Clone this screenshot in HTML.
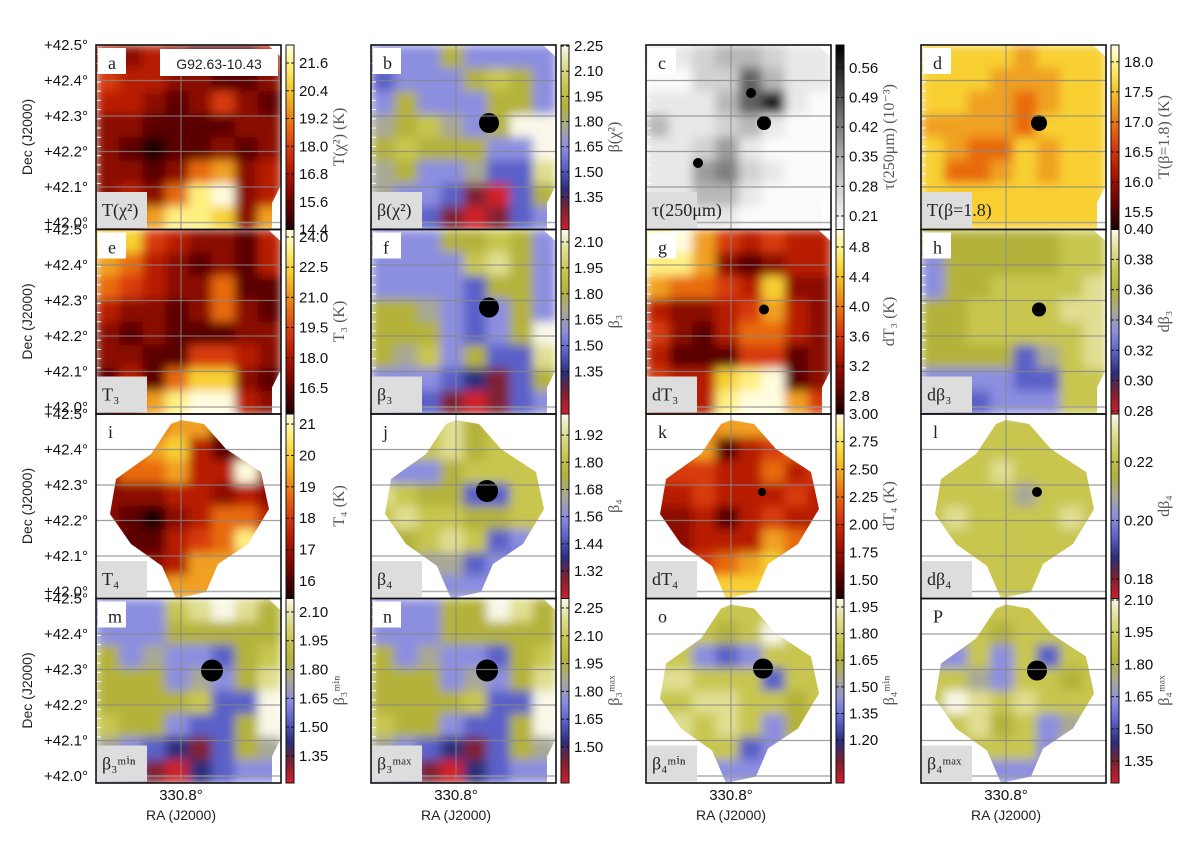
<!DOCTYPE html>
<html><head><meta charset="utf-8"><style>
body{margin:0;background:#fff;}
svg{display:block;}
.tk{font-family:"Liberation Sans","DejaVu Sans",sans-serif;font-size:15px;fill:#111;}
.ax{font-family:"Liberation Sans","DejaVu Sans",sans-serif;font-size:14px;fill:#222;}
.cbl{font-family:"Liberation Serif","DejaVu Serif",serif;font-size:16px;fill:#555;}
.plab{font-family:"Liberation Serif","DejaVu Serif",serif;font-size:18px;fill:#222;}
</style></head><body>
<svg id="fig" width="1200" height="842" viewBox="0 0 1200 842" xmlns="http://www.w3.org/2000/svg">
<defs>
<filter id="blur" x="0" y="0" width="1" height="1"><feGaussianBlur stdDeviation="5" edgeMode="duplicate"/></filter>
</defs>
</svg>
<script>
// colormaps (level 0 = bottom of colorbar)
const heatCmap=["#1a0000","#5a0000","#8b0a00","#b81c00","#d83a10","#e86a10","#f0a020","#f8d030","#fff080","#fffde0"];
const betaCmap=["#d0202a","#802030","#2a2e7a","#5a60c8","#8c8ee0","#a8a896","#b4b23a","#c8c650","#e0de90","#faf8e8"];
const grayCmap=["#fbfbfb","#e8e8e8","#d2d2d2","#b8b8b8","#9c9c9c","#7e7e7e","#606060","#404040","#202020","#000000"];

// map grids (8x8 levels 0-9)
const gridA=["32321113","43322112","33212421","22111122","21011212","22125623","23258923","23688726"];
const gridB=["44464444","34446764","46444664","56754699","67666449","56445338","54431036","34310134"];
const gridC=["11233211","00226311","11136810","31123100","11241000","11452100","11331000","00110000"];
const gridD=["77776777","77766677","77665677","66665777","76557677","75567677","77777777","77777777"];
const gridE=["77432213","65321213","54322511","32212521","21211122","22114432","13157721","23689932"];
const gridF=["44466764","44447864","44443664","66543464","66643469","65746338","44432136","43310134"];
const gridG=["89643433","88621233","65543722","32234632","42135532","31114412","43378912","33389964"];
const gridH=["66666677","46666677","46677778","66777788","66777778","66663578","44443377","43344477"];
const gridI=["33466111","34673122","35563392","22233232","21023553","31134583","22236652","22566666"];
const gridJ=["77786777","57786777","44467777","87663377","78776677","66787347","66553434","44444444"];
const gridK=["44566666","45613455","44433534","33433343","22313433","32333653","33456743","44777777"];
const gridL=["77777777","77777777","77787777","77775777","78777787","77777777","77777777","77777777"];
const gridM=["44478986","44466666","64544367","66645468","66667339","76643369","54321365","43102344"];
const gridN=["44466986","44466666","64544367","66645468","66667339","76643369","54321365","43102344"];
const gridO=["77777777","77767977","77434777","88777377","77887767","78787467","77773477","44444444"];
const gridP=["77777777","77767777","44747377","77547767","79878777","77867457","77777477","44444444"];

// colorbar ticks
const ticksA=[21.6,20.4,19.2,18.0,16.8,15.6,14.4];
const ticksB=[2.25,2.10,1.95,1.80,1.65,1.50,1.35];
const ticksC=[0.56,0.49,0.42,0.35,0.28,0.21];
const ticksD=[18.0,17.5,17.0,16.5,16.0,15.5];
const ticksE=[24.0,22.5,21.0,19.5,18.0,16.5];
const ticksF=[2.10,1.95,1.80,1.65,1.50,1.35];
const ticksG=[4.8,4.4,4.0,3.6,3.2,2.8];
const ticksH=[0.40,0.38,0.36,0.34,0.32,0.30,0.28];
const ticksI=[21,20,19,18,17,16];
const ticksJ=[1.92,1.80,1.68,1.56,1.44,1.32];
const ticksK=[3.00,2.75,2.50,2.25,2.00,1.75,1.50];
const ticksL=[0.22,0.20,0.18];
const ticksM=[2.10,1.95,1.80,1.65,1.50,1.35];
const ticksN=[2.25,2.10,1.95,1.80,1.65,1.50];
const ticksO=[1.95,1.80,1.65,1.50,1.35,1.20];
const ticksP=[2.10,1.95,1.80,1.65,1.50,1.35];
// colorbar ranges [top, bottom]
const rangeA=[22.38,14.4], rangeB=[2.256,1.157], rangeC=[0.614,0.178], rangeD=[18.28,15.21];
const rangeE=[24.37,15.21], rangeF=[2.172,1.104], rangeG=[5.035,2.558], rangeH=[0.3997,0.278];
const rangeI=[21.32,15.44], rangeJ=[2.013,1.199], rangeK=[3.0,1.333], rangeL=[0.2364,0.1733];
const rangeM=[2.17,1.209], rangeN=[2.301,1.306], rangeO=[1.998,0.958], rangeP=[2.107,1.248];

const decTicks=[42.5,42.4,42.3,42.2,42.1,42.0];

const svg=document.getElementById('fig');
const NS="http://www.w3.org/2000/svg";
function mk(tag,attrs,parent){const e=document.createElementNS(NS,tag);for(const k in attrs)e.setAttribute(k,attrs[k]);(parent||svg).appendChild(e);return e;}

const colX=[96,371,646,921], rowY=[45,229.5,414,598.5], PW=185, PH=184.5;
const fullShape="0,0 172,0 185,12 185,140 176,158 176,184.5 0,184.5";
const diamondShape="85,6 108,10 130,35 165,58 173,95 152,130 122,150 110,178 80,184.5 66,152 35,130 14,100 20,65 55,40 75,10";

const panels=[
 {id:'a',grid:gridA,cm:heatCmap,ticks:ticksA,range:rangeA,dec:1,lab:'T(χ²)',cbl:'T(χ²) (K)',shape:fullShape,dots:[]},
 {id:'b',grid:gridB,cm:betaCmap,ticks:ticksB,range:rangeB,dec:2,lab:'β(χ²)',cbl:'β(χ²)',shape:fullShape,dots:[[118,78,10]]},
 {id:'c',grid:gridC,cm:grayCmap,ticks:ticksC,range:rangeC,dec:2,lab:'τ(250μm)',cbl:'τ(250μm) (10⁻³)',shape:fullShape,dots:[[118,78,7],[105,48,5],[52,118,5]]},
 {id:'d',grid:gridD,cm:heatCmap,ticks:ticksD,range:rangeD,dec:1,lab:'T(β=1.8)',cbl:'T(β=1.8) (K)',shape:fullShape,dots:[[118,78,8]]},
 {id:'e',grid:gridE,cm:heatCmap,ticks:ticksE,range:rangeE,dec:1,lab:'T₃',cbl:'T₃ (K)',shape:fullShape,dots:[]},
 {id:'f',grid:gridF,cm:betaCmap,ticks:ticksF,range:rangeF,dec:2,lab:'β₃',cbl:'β₃',shape:fullShape,dots:[[118,78,10]]},
 {id:'g',grid:gridG,cm:heatCmap,ticks:ticksG,range:rangeG,dec:1,lab:'dT₃',cbl:'dT₃ (K)',shape:fullShape,dots:[[118,80,5]]},
 {id:'h',grid:gridH,cm:betaCmap,ticks:ticksH,range:rangeH,dec:2,lab:'dβ₃',cbl:'dβ₃',shape:fullShape,dots:[[118,80,7]]},
 {id:'i',grid:gridI,cm:heatCmap,ticks:ticksI,range:rangeI,dec:0,lab:'T₄',cbl:'T₄ (K)',shape:diamondShape,dots:[]},
 {id:'j',grid:gridJ,cm:betaCmap,ticks:ticksJ,range:rangeJ,dec:2,lab:'β₄',cbl:'β₄',shape:diamondShape,dots:[[116,77,11]]},
 {id:'k',grid:gridK,cm:heatCmap,ticks:ticksK,range:rangeK,dec:2,lab:'dT₄',cbl:'dT₄ (K)',shape:diamondShape,dots:[[116,78,4]]},
 {id:'l',grid:gridL,cm:betaCmap,ticks:ticksL,range:rangeL,dec:2,lab:'dβ₄',cbl:'dβ₄',shape:diamondShape,dots:[[116,78,5]]},
 {id:'m',grid:gridM,cm:betaCmap,ticks:ticksM,range:rangeM,dec:2,lab:'β₃ᵐⁱⁿ',cbl:'β₃ᵐⁱⁿ',shape:fullShape,dots:[[116,72,11]]},
 {id:'n',grid:gridN,cm:betaCmap,ticks:ticksN,range:rangeN,dec:2,lab:'β₃ᵐᵃˣ',cbl:'β₃ᵐᵃˣ',shape:fullShape,dots:[[116,72,11]]},
 {id:'o',grid:gridO,cm:betaCmap,ticks:ticksO,range:rangeO,dec:2,lab:'β₄ᵐⁱⁿ',cbl:'β₄ᵐⁱⁿ',shape:diamondShape,dots:[[117,70,10]]},
 {id:'p',grid:gridP,cm:betaCmap,ticks:ticksP,range:rangeP,dec:2,lab:'β₄ᵐᵃˣ',cbl:'β₄ᵐᵃˣ',shape:diamondShape,dots:[[116,72,10]]}
];

const defs=svg.querySelector('defs');
panels.forEach((p,idx)=>{
  const c=idx%4, r=Math.floor(idx/4);
  const x0=colX[c], y0=rowY[r];
  const cp=mk('clipPath',{id:'clip'+p.id},defs);
  const pts=p.shape.split(' ').map(s=>{const [a,b]=s.split(',').map(Number);return (x0+a)+','+(y0+b);}).join(' ');
  mk('polygon',{points:pts},cp);
  const g=mk('g',{'clip-path':'url(#clip'+p.id+')'});
  
  
  const bg=mk('g',{filter:'url(#blur)'},g);
  const nr=p.grid.length, nc=p.grid[0].length, cw=PW/nc, ch=PH/nr;
  mk('rect',{x:x0,y:y0,width:PW,height:PH,fill:p.cm[5]},bg);
  p.grid.forEach((row,ri)=>{
    for(let ci=0;ci<nc;ci++){
      const lv=+row[ci];
      const cell=mk('rect',{x:x0+ci*cw,y:y0+ri*ch,width:cw+0.5,height:ch+0.5,fill:p.cm[lv]},bg);
      
      
    }
  });
  p.dots.forEach(d=>{
    const dot=mk('circle',{cx:x0+d[0],cy:y0+d[1],r:d[2],fill:'#000'},g);
    
    
  });
  decTicks.forEach((v,i)=>{ if(i>0&&i<5) mk('line',{x1:x0,x2:x0+PW,y1:y0+i*35.5,y2:y0+i*35.5,stroke:'#888','stroke-width':1.2,opacity:0.8}); });
  mk('line',{x1:x0+85,x2:x0+85,y1:y0,y2:y0+PH,stroke:'#888','stroke-width':1.2,opacity:0.8});
  mk('line',{x1:x0+40,x2:x0+PW,y1:y0+177.5,y2:y0+177.5,stroke:'#999','stroke-width':1.5,opacity:0.8});
  for(let k=1;k<20;k++){ mk('line',{x1:x0,x2:x0+5,y1:y0+k*PH/20,y2:y0+k*PH/20,stroke:'#fff','stroke-width':1}); }
  const fr=mk('rect',{x:x0,y:y0,width:PW,height:PH,fill:'none',stroke:'#111','stroke-width':1.6});
  
  
  mk('rect',{x:x0+2,y:y0+3,width:28,height:26,fill:'#fff'});
  const lt=mk('text',{x:x0+12,y:y0+24,class:'plab'});lt.textContent=p.id==='p'?'P':p.id;
  
  
  if(p.id==='a'){
    mk('rect',{x:x0+64,y:y0+4,width:118,height:27,fill:'#fff'});
    const t=mk('text',{x:x0+123,y:y0+24,'text-anchor':'middle',class:'ax','font-size':'18'});
    t.textContent='G92.63-10.43';
    
    
  }
  mk('rect',{x:x0+1,y:y0+147,width:50,height:36,fill:'#ddd'});
  const bl=mk('text',{x:x0+6,y:y0+171,class:'plab','font-size':'16'});bl.textContent=p.lab;
  
  
  const cbx=x0+190, cbw=8;
  const gid='grad'+p.id;
  const lg=mk('linearGradient',{id:gid,x1:0,y1:1,x2:0,y2:0},defs);
  p.cm.forEach((col,i)=>{ mk('stop',{offset:(i/(p.cm.length-1)),'stop-color':col},lg); });
  const cb=mk('rect',{x:cbx,y:y0,width:cbw,height:PH,fill:'url(#'+gid+')',stroke:'#111','stroke-width':1});
  
  
  const yOf=v=>y0+(p.range[0]-v)/(p.range[0]-p.range[1])*PH;
  p.ticks.forEach(v=>{
    const y=yOf(v);
    mk('line',{x1:cbx,x2:cbx+3,y1:y,y2:y,stroke:'#111'});
    mk('line',{x1:cbx+cbw-3,x2:cbx+cbw,y1:y,y2:y,stroke:'#111'});
    const t=mk('text',{x:cbx+13,y:y+5,class:'tk'});
    t.textContent=v.toFixed(p.dec);
    
    
  });
  const cl=mk('text',{x:0,y:0,class:'cbl','text-anchor':'middle',transform:'translate('+(x0+248)+','+(y0+92)+') rotate(-90)'});
  cl.textContent=p.cbl;
  
  
});

rowY.forEach((y0)=>{
  decTicks.forEach((v,i)=>{
    const t=mk('text',{x:88,y:y0+i*35.5+5,'text-anchor':'end',class:'tk'});
    t.textContent='+'+v.toFixed(1)+'°';
    
    
  });
  const d=mk('text',{x:0,y:0,class:'ax','text-anchor':'middle',transform:'translate(32,'+(y0+92)+') rotate(-90)'});
  d.textContent='Dec (J2000)';
  
  
});
colX.forEach(x0=>{
  const t=mk('text',{x:x0+85,y:800,'text-anchor':'middle',class:'tk'});t.textContent='330.8°';
  
  
  const a=mk('text',{x:x0+85,y:820,'text-anchor':'middle',class:'ax'});a.textContent='RA (J2000)';
  
  
});
</script>
</body></html>
